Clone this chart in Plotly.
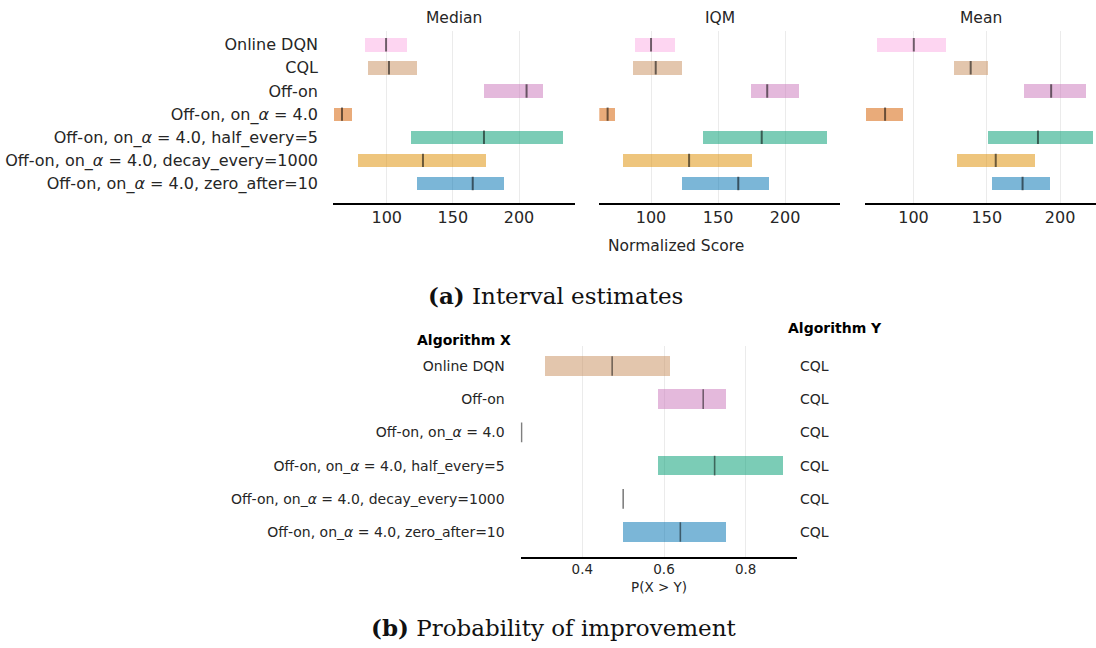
import plotly.graph_objects as go

W, H = 1096, 648

algorithms = [
    "Online DQN",
    "CQL",
    "Off-on",
    "Off-on, on_<i>α</i> = 4.0",
    "Off-on, on_<i>α</i> = 4.0, half_every=5",
    "Off-on, on_<i>α</i> = 4.0, decay_every=1000",
    "Off-on, on_<i>α</i> = 4.0, zero_after=10",
]
top_colors = ["#fbafe4", "#ca9161", "#cc78bc", "#d55e00", "#029e73", "#de8f05", "#0173b2"]

# Interval estimates (low, point, high)
median_low = [83.6, 85.6, 173.7, 60.2, 118.1, 78.1, 122.9]
median_pt = [99.5, 101.7, 205.7, 66.2, 173.5, 127.4, 165.0]
median_high = [115.1, 123.1, 218.3, 73.8, 232.9, 175.0, 188.7]

iqm_low = [88.1, 86.6, 174.5, 61.6, 138.8, 79.4, 123.4]
iqm_pt = [100.0, 103.5, 186.7, 67.6, 182.6, 128.4, 165.1]
iqm_high = [117.9, 123.6, 210.8, 73.5, 231.5, 175.4, 188.3]

mean_low = [74.9, 127.6, 175.3, 67.4, 150.7, 129.6, 153.3]
mean_pt = [100.2, 139.0, 193.9, 80.6, 184.9, 156.1, 174.4]
mean_high = [122.1, 150.7, 217.9, 93.0, 222.2, 183.1, 192.8]

metric_titles = ["Median", "IQM", "Mean"]
score_ticks = [100, 150, 200]

# Probability of improvement
poi_x = [
    "Online DQN",
    "Off-on",
    "Off-on, on_<i>α</i> = 4.0",
    "Off-on, on_<i>α</i> = 4.0, half_every=5",
    "Off-on, on_<i>α</i> = 4.0, decay_every=1000",
    "Off-on, on_<i>α</i> = 4.0, zero_after=10",
]
poi_y = ["CQL"] * 6
poi_colors = ["#ca9161", "#cc78bc", "#d55e00", "#029e73", "#de8f05", "#0173b2"]
poi_low = [0.308, 0.584, 0.251, 0.584, 0.500, 0.500]
poi_pt = [0.473, 0.696, 0.251, 0.724, 0.500, 0.640]
poi_high = [0.613, 0.750, 0.251, 0.890, 0.500, 0.750]
poi_ticks = [0.4, 0.6, 0.8]


def rgba(hx, a):
    hx = hx.lstrip("#")
    r, g, b = int(hx[0:2], 16), int(hx[2:4], 16), int(hx[4:6], 16)
    return f"rgba({r},{g},{b},{a})"


def px_x(x):
    return x / W


def px_y(y):
    return 1 - y / H


FONT = "DejaVu Sans"
TXT = "#262626"
TOP_W = 0.58
BOT_W = 0.59

fig = go.Figure()
shapes = []

metrics = [
    (median_low, median_pt, median_high),
    (iqm_low, iqm_pt, iqm_high),
    (mean_low, mean_pt, mean_high),
]
idx_top = list(range(len(algorithms)))
for k, (lo, pt, hi) in enumerate(metrics):
    xa = "x" if k == 0 else f"x{k+1}"
    ya = "y" if k == 0 else f"y{k+1}"
    fig.add_trace(go.Bar(
        x=[h - l for l, h in zip(lo, hi)], base=lo, y=idx_top, orientation="h",
        width=TOP_W, marker=dict(color=[rgba(c, 0.52) for c in top_colors], line=dict(width=0)),
        xaxis=xa, yaxis=ya, showlegend=False, hoverinfo="skip",
    ))
    for i, p in zip(idx_top, pt):
        shapes.append(dict(type="line", xref=xa, yref=ya, x0=p, x1=p,
                           y0=i - TOP_W / 2, y1=i + TOP_W / 2,
                           line=dict(width=2, color="rgba(0,0,0,0.55)")))

idx_bot = list(range(len(poi_x)))
fig.add_trace(go.Bar(
    x=[h - l for l, h in zip(poi_low, poi_high)], base=poi_low, y=idx_bot, orientation="h",
    width=BOT_W, marker=dict(color=[rgba(c, 0.52) for c in poi_colors], line=dict(width=0)),
    xaxis="x4", yaxis="y4", showlegend=False, hoverinfo="skip",
))
for i, p in zip(idx_bot, poi_pt):
    shapes.append(dict(type="line", xref="x4", yref="y4", x0=p, x1=p,
                       y0=i - BOT_W / 2, y1=i + BOT_W / 2,
                       line=dict(width=1.6, color="rgba(0,0,0,0.5)")))

x_domains = [(333, 575), (599.3, 840), (865, 1096)]
x_ranges = [(59.4, 242.3), (61.4, 241.0), (66.9, 224.5)]
top_dom = [px_y(202.7), px_y(30.8)]

layout = dict(
    width=W, height=H, margin=dict(l=0, r=0, t=0, b=0),
    paper_bgcolor="white", plot_bgcolor="white",
    font=dict(family=FONT, color=TXT), bargap=0,
)
for k in range(3):
    sx = "" if k == 0 else str(k + 1)
    layout[f"xaxis{sx}"] = dict(
        domain=[px_x(x_domains[k][0]), px_x(x_domains[k][1])],
        range=list(x_ranges[k]), anchor=f"y{sx}",
        tickvals=score_ticks, ticks="", showgrid=True, gridcolor="#ebebeb", gridwidth=1,
        zeroline=False, showline=True, linecolor="black", linewidth=2,
        tickfont=dict(size=16, color=TXT, family=FONT), ticklabelstandoff=-1,
    )
    layout[f"yaxis{sx}"] = dict(
        domain=top_dom, range=[6.83, -0.6], anchor=f"x{sx}",
        tickvals=idx_top, ticktext=algorithms if k == 0 else [""] * 7,
        showticklabels=(k == 0), ticks="", showgrid=False, zeroline=False, showline=False,
        tickfont=dict(size=16, color=TXT, family=FONT), ticklabelstandoff=14,
    )

layout["xaxis4"] = dict(
    domain=[px_x(520.7), px_x(796.7)], range=[0.249, 0.925], anchor="y4",
    tickvals=poi_ticks, ticktext=["0.4", "0.6", "0.8"], ticks="", showgrid=True,
    gridcolor="#ebebeb", gridwidth=1, zeroline=False, showline=True, linecolor="black",
    linewidth=2, tickfont=dict(size=13.5, color=TXT, family=FONT), ticklabelstandoff=-2,
)
layout["yaxis4"] = dict(
    domain=[px_y(557.3), px_y(346)], range=[5.76, -0.6], anchor="x4",
    tickvals=idx_bot, ticktext=poi_x, ticks="", showgrid=False, zeroline=False,
    showline=False, tickfont=dict(size=14, color=TXT, family=FONT), ticklabelstandoff=15,
)

annotations = []
for k, t in enumerate(metric_titles):
    cx = (x_domains[k][0] + x_domains[k][1]) / 2
    annotations.append(dict(text=t, x=px_x(cx), y=px_y(18), xref="paper", yref="paper",
                            showarrow=False, xanchor="center", yanchor="middle",
                            font=dict(size=15.5, color=TXT, family=FONT)))
annotations.append(dict(text="Normalized Score", x=px_x(676), y=px_y(246), xref="paper",
                        yref="paper", showarrow=False, xanchor="center", yanchor="middle",
                        font=dict(size=15.5, color=TXT, family=FONT)))
annotations.append(dict(text="P(X > Y)", x=px_x(658.7), y=px_y(586.5), xref="paper",
                        yref="paper", showarrow=False, xanchor="center", yanchor="middle",
                        font=dict(size=13.5, color=TXT, family=FONT)))
annotations.append(dict(text="<b>Algorithm X</b>", x=px_x(513), y=px_y(340), xref="paper",
                        yref="paper", showarrow=False, xanchor="right", yanchor="middle",
                        font=dict(size=14, color="black", family=FONT)))
annotations.append(dict(text="<b>Algorithm Y</b>", x=px_x(786), y=px_y(328), xref="paper",
                        yref="paper", showarrow=False, xanchor="left", yanchor="middle",
                        font=dict(size=14, color="black", family=FONT)))
for i, lab in enumerate(poi_y):
    annotations.append(dict(text=lab, x=798 / W, y=i, xref="paper", yref="y4",
                            showarrow=False, xanchor="left", yanchor="middle",
                            font=dict(size=14, color=TXT, family=FONT)))
annotations.append(dict(text="<b>(a)</b> Interval estimates", x=px_x(555), y=px_y(295),
                        xref="paper", yref="paper", showarrow=False, xanchor="center",
                        yanchor="middle", font=dict(size=23, color="#111", family="DejaVu Serif")))
annotations.append(dict(text="<b>(b)</b> Probability of improvement", x=px_x(554), y=px_y(627),
                        xref="paper", yref="paper", showarrow=False, xanchor="center",
                        yanchor="middle", font=dict(size=23, color="#111", family="DejaVu Serif")))
layout["annotations"] = annotations
layout["shapes"] = shapes

fig.update_layout(**layout)
fig.write_html("out.html")
